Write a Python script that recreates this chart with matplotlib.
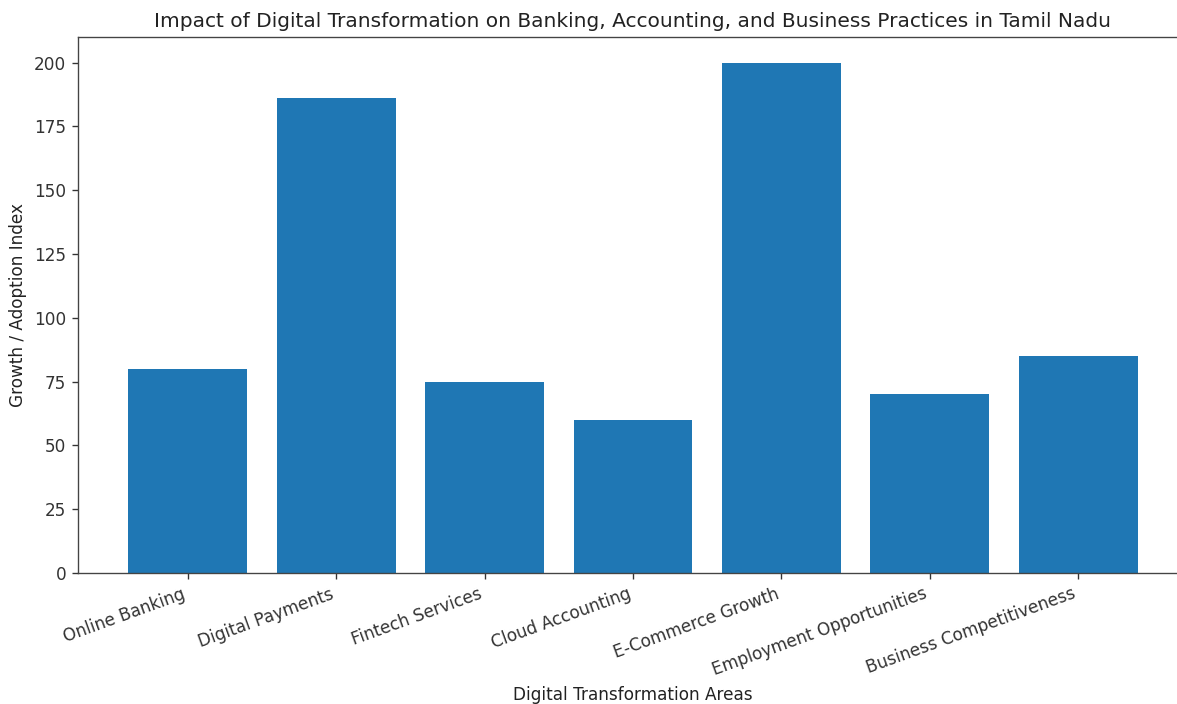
import matplotlib
matplotlib.use("Agg")
import matplotlib.pyplot as plt

categories = ["Online Banking", "Digital Payments", "Fintech Services", "Cloud Accounting",
              "E-Commerce Growth", "Employment Opportunities", "Business Competitiveness"]
values = [80, 186, 75, 60, 200, 70, 85]

s = 1.22
plt.rcParams.update({
    "font.size": 10 * s,
    "axes.linewidth": 0.8 * s,
    "xtick.major.size": 3.5 * s,
    "ytick.major.size": 3.5 * s,
    "xtick.major.width": 0.8 * s,
    "ytick.major.width": 0.8 * s,
    "xtick.major.pad": 3.5 * s,
    "ytick.major.pad": 3.5 * s,
    "axes.titlepad": 6 * s,
    "axes.labelpad": 4 * s,
    "text.color": "#222222",
    "axes.labelcolor": "#222222",
    "xtick.color": "#333333",
    "ytick.color": "#333333",
    "axes.edgecolor": "#444444",
})

fig, ax = plt.subplots(figsize=(11.77, 7.04), dpi=100)
fig.subplots_adjust(left=78 / 1177, right=1188 / 1177, top=1 - 37 / 704, bottom=1 - 573 / 704)
ax.bar(categories, values, color="#1f77b4")
ax.set_title("Impact of Digital Transformation on Banking, Accounting, and Business Practices in Tamil Nadu",
             fontsize=14.5)
ax.set_xlabel("Digital Transformation Areas")
ax.set_ylabel("Growth / Adoption Index")
plt.setp(ax.get_xticklabels(), rotation=20, ha="right")
fig.savefig("out.png", dpi=100)
